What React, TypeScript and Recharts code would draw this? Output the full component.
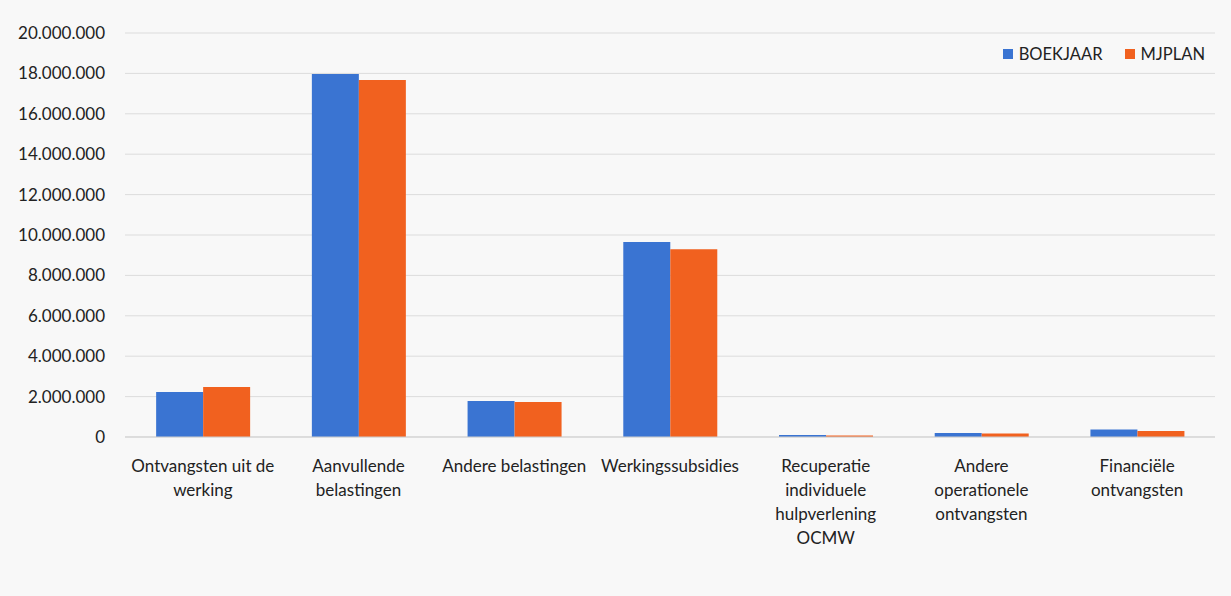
import React from "react";
import { BarChart, Bar, XAxis, YAxis, CartesianGrid } from "recharts";

const categories = [
  "Ontvangsten uit de\nwerking",
  "Aanvullende\nbelastingen",
  "Andere belastingen",
  "Werkingssubsidies",
  "Recuperatie\nindividuele\nhulpverlening\nOCMW",
  "Andere\noperationele\nontvangsten",
  "Financiële\nontvangsten",
];
const boekjaar = [2230000, 17970000, 1780000, 9650000, 100000, 200000, 370000];
const mjplan = [2480000, 17670000, 1730000, 9300000, 70000, 170000, 300000];
const yTicks = [0, 2000000, 4000000, 6000000, 8000000, 10000000, 12000000, 14000000, 16000000, 18000000, 20000000];
const seriesNames = ["BOEKJAAR", "MJPLAN"];

const data = categories.map((c, i) => ({ name: c, BOEKJAAR: boekjaar[i], MJPLAN: mjplan[i] }));

const BLUE = "#3A74D2";
const ORANGE = "#F1611F";
const COLORS = [BLUE, ORANGE];
const FONT = "Lato, 'Open Sans', sans-serif";

const fmt = (v: number) => v.toString().replace(/\B(?=(\d{3})+(?!\d))/g, ".");

const XTick = (props: any) => {
  const { x, y, payload } = props;
  const lines = String(payload.value).split("\n");
  return (
    <text x={x} y={y} textAnchor="middle" fill="#222" fontSize={17} fontFamily={FONT}>
      {lines.map((l: string, i: number) => (
        <tspan key={i} x={x} dy={i === 0 ? 27 : 24}>{l}</tspan>
      ))}
    </text>
  );
};

export default function App() {
  return (
    <div style={{ position: "absolute", left: 0, top: 0, width: 1231, height: 596, background: "#f8f8f8" }}>
      <BarChart
        width={1231}
        height={596}
        data={data}
        margin={{ top: 33, right: 16, left: 0, bottom: 0 }}
        barCategoryGap="20%"
        barGap={0}
      >
        <CartesianGrid vertical={false} stroke="#dcdcdc" />
        <XAxis
          dataKey="name"
          interval={0}
          tick={<XTick />}
          tickLine={false}
          axisLine={{ stroke: "#cfcfcf" }}
          height={159}
        />
        <YAxis
          width={125}
          domain={[0, 20000000]}
          ticks={yTicks}
          tickFormatter={fmt}
          tickLine={false}
          axisLine={false}
          tick={{ fill: "#222", fontSize: 17, fontFamily: FONT }}
          tickMargin={14}
        />
        <Bar dataKey="BOEKJAAR" fill={BLUE} isAnimationActive={false} />
        <Bar dataKey="MJPLAN" fill={ORANGE} isAnimationActive={false} />
      </BarChart>
      <div
        style={{
          position: "absolute",
          top: 44,
          right: 26,
          display: "flex",
          alignItems: "center",
          fontFamily: FONT,
          fontSize: 16.5,
          color: "#222",
          background: "#f8f8f8",
        }}
      >
        {seriesNames.map((n, i) => (
          <React.Fragment key={n}>
            <span style={{ width: 10, height: 10, background: COLORS[i], display: "inline-block", marginRight: 6 }} />
            <span style={{ marginRight: i === 0 ? 22 : 0 }}>{n}</span>
          </React.Fragment>
        ))}
      </div>
    </div>
  );
}
